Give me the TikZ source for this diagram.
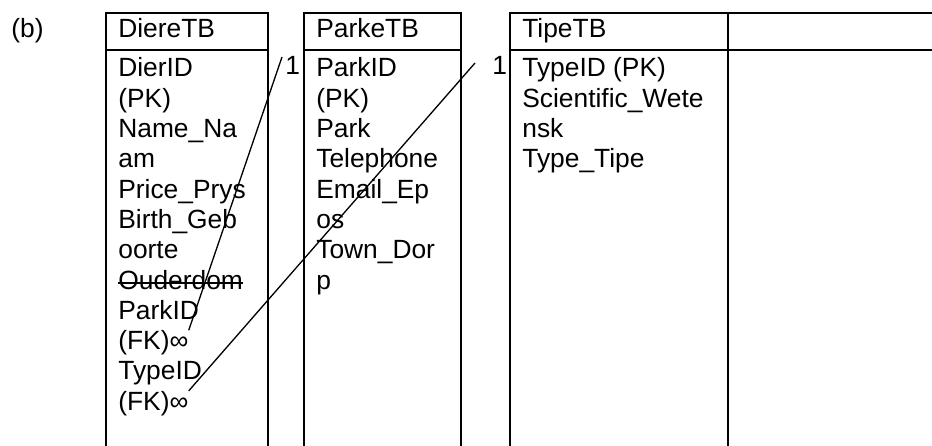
\documentclass[tikz,border=0pt]{standalone}
\usepackage{fontspec}
\setmainfont{Liberation Sans}

\begin{document}
\begin{tikzpicture}[
        tbl/.style={draw, line width=1.1pt, minimum height=9.6cm, inner sep=0pt, anchor=north west},
        txt/.style={anchor=base west, inner sep=0pt, font=\fontsize{15}{17.25}\selectfont},
        link/.style={line width=0.75pt},
    ]
        \useasboundingbox (0,0) rectangle (18.64,8.92);

        \node[txt] (part) at (0.22,8.16) {(b)};

        % Tables (open at the bottom of the page)
        \node[tbl, minimum width=3.24cm] (diere) at (2.10,8.68) {};
        \node[tbl, minimum width=3.14cm] (parke) at (6.06,8.68) {};
        \node[tbl, minimum width=4.36cm] (tipe) at (10.18,8.68) {};
        \node[tbl, minimum width=4.40cm] (extra) at (14.54,8.68) {};

        \foreach \t in {diere, parke, tipe, extra}
            \draw[line width=1.1pt] ([yshift=-0.76cm]\t.north west) -- ([yshift=-0.76cm]\t.north east);

        % Headers
        \node[txt] (diereH) at ([xshift=0.26cm, yshift=-0.52cm]diere.north west) {DiereTB};
        \node[txt] (parkeH) at ([xshift=0.26cm, yshift=-0.52cm]parke.north west) {ParkeTB};
        \node[txt] (tipeH) at ([xshift=0.26cm, yshift=-0.52cm]tipe.north west) {TipeTB};

        % Fields
        \foreach \f [count=\i] in {DierID, (PK), Name\_Na, am, Price\_Prys, Birth\_Geb, oorte,
                Ouderdom, ParkID, (FK)∞, TypeID, (FK)∞}
            \node[txt] (diere\i) at ([xshift=0.26cm, yshift={-1.30cm-(\i-1)*0.606cm}]diere.north west) {\f};
        \foreach \f [count=\i] in {ParkID, (PK), Park, Telephone, Email\_Ep, os, Town\_Dor, p}
            \node[txt] (parke\i) at ([xshift=0.26cm, yshift={-1.30cm-(\i-1)*0.606cm}]parke.north west) {\f};
        \foreach \f [count=\i] in {TypeID (PK), Scientific\_Wete, nsk, Type\_Tipe}
            \node[txt] (tipe\i) at ([xshift=0.26cm, yshift={-1.30cm-(\i-1)*0.606cm}]tipe.north west) {\f};

        % struck out field
        \draw[line width=1.1pt] ([yshift=0.13cm]diere8.base west) -- ([yshift=0.13cm]diere8.base east);

        % Links
        \coordinate (parkEnd) at (5.64,7.78);
        \coordinate (tipeEnd) at (9.50,7.66);
        \draw[link] (diere10.north east) -- (parkEnd);
        \draw[link] (diere12.north east) -- (tipeEnd);
        \node[txt] (parkOne) at (5.70,7.42) {1};
        \node[txt] (tipeOne) at (9.84,7.42) {1};
    \end{tikzpicture}
\end{document}
